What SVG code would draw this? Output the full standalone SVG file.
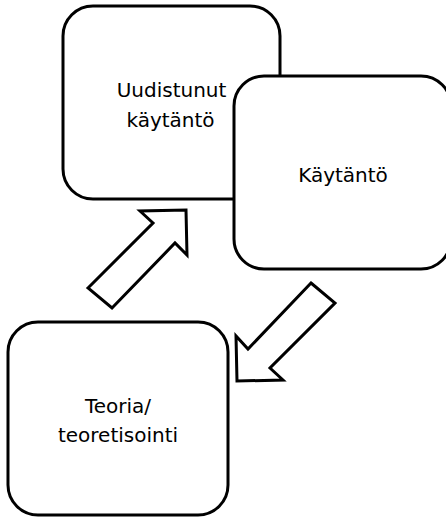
<svg xmlns="http://www.w3.org/2000/svg" width="446" height="517" viewBox="0 0 446 517">
<style>
.box{fill:#fff;stroke:#000;stroke-width:3}
.arr{fill:#fff;stroke:#000;stroke-width:3;stroke-linejoin:miter}
text{font-family:"DejaVu Sans",Verdana,sans-serif;font-size:20px;fill:#000;text-anchor:middle}
</style>
<rect width="446" height="517" fill="#fff"/>
<g id="node-uudistunut">
<rect class="box" x="63" y="6" width="217" height="193" rx="30" ry="30"/>
<text x="171.5" y="97">Uudistunut</text>
<text x="170.5" y="127">käytäntö</text>
</g>
<g id="node-kaytanto">
<rect class="box" x="234" y="76" width="217" height="193" rx="30" ry="30"/>
<text x="343" y="182">Käytäntö</text>
</g>
<g id="node-teoria">
<rect class="box" x="8" y="322" width="220" height="193" rx="30" ry="30"/>
<text x="118" y="413">Teoria/</text>
<text x="118" y="442">teoretisointi</text>
</g>
<g id="connectors">
<polygon class="arr" points="88,288 153,223 140,211 186,210 187,255 175,243 112,308"/>
<polygon class="arr" points="311,283 335,303 270,368 283,380 237,381 236,336 248,349"/>
</g>
</svg>
